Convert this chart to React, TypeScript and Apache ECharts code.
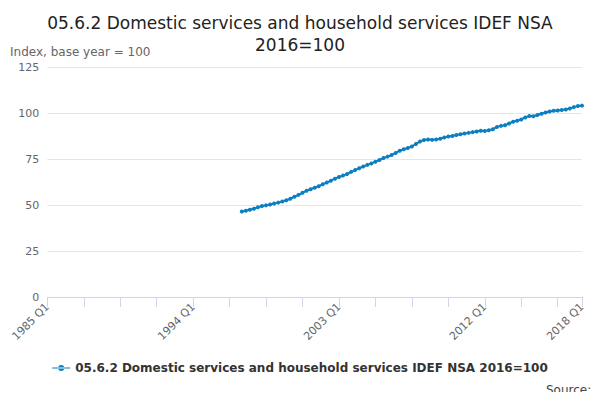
import React, { useEffect, useRef } from "react";
import * as echarts from "echarts";

const years: number[] = [];
for (let y = 1985; y <= 2018; y++) years.push(y);
const categories: string[] = [];
years.forEach((y) => ["Q1", "Q2", "Q3", "Q4"].forEach((q) => { if (y < 2018 || q === "Q1") categories.push(`${y} ${q}`); }));

const seriesName = "05.6.2 Domestic services and household services IDEF NSA 2016=100";
const startCategory = "1997 Q1";
const values = [
  46.5, 46.9, 47.4, 48.0,
  48.8, 49.4, 49.8, 50.3,
  50.8, 51.3, 51.9, 52.6,
  53.4, 54.5, 55.5, 56.6,
  57.8, 58.6, 59.4, 60.2,
  61.3, 62.2, 63.2, 64.3,
  65.2, 66.0, 66.8, 68.0,
  69.0, 70.0, 70.9, 71.8,
  72.6, 73.5, 74.5, 75.5,
  76.3, 77.2, 78.3, 79.5,
  80.3, 81.0, 81.8, 83.2,
  84.5, 85.3, 85.6, 85.4,
  85.6, 86.0, 86.7, 87.2,
  87.5, 88.0, 88.5, 88.9,
  89.2, 89.6, 90.0, 90.3,
  90.2, 90.6, 91.2, 92.4,
  93.0, 93.4, 94.3, 95.3,
  95.8, 96.5, 97.6, 98.4,
  98.2, 98.9, 99.6, 100.3,
  100.8, 101.2, 101.4, 101.6,
  101.9, 102.5, 103.2, 103.8,
  104.0,
];
const labelled = ["1985 Q1", "1994 Q1", "2003 Q1", "2012 Q1", "2018 Q1"];

export default function App() {
  const ref = useRef<HTMLDivElement>(null);
  useEffect(() => {
    const chart = echarts.init(ref.current!, null, { renderer: "svg" });
    const startIdx = categories.indexOf(startCategory);
    const data = categories.map((_, i) => (i >= startIdx && i - startIdx < values.length ? values[i - startIdx] : null));
    chart.setOption({
      animation: false,
      title: {
        text: "05.6.2 Domestic services and household services IDEF NSA\n2016=100",
        left: "center", top: -1,
        textStyle: { fontFamily: "DejaVu Sans", fontSize: 17, fontWeight: "normal", color: "#222", lineHeight: 22 },
      },
      graphic: [
        { type: "text", left: 2, top: 38, style: { text: "Index, base year = 100", fill: "#666", font: "12px DejaVu Sans" } },
        { type: "text", left: 538, top: 376, style: { text: "Source:", fill: "#444", font: "12px DejaVu Sans" } },
      ],
      grid: { left: 39, right: 10, top: 59, bottom: 95 },
      legend: {
        bottom: 13, left: "center", itemWidth: 18, itemHeight: 8,
        icon: "path://M0,3.5 L18,3.5 L18,4.5 L0,4.5 Z M6,4 A3,3 0 1 0 12,4 A3,3 0 1 0 6,4 Z",
        textStyle: { fontFamily: "DejaVu Sans", fontSize: 12, fontWeight: "bold", color: "#333" },
        data: [seriesName],
      },
      xAxis: {
        type: "category", data: categories, boundaryGap: false,
        axisLine: { lineStyle: { color: "#ccd6eb" } },
        axisTick: { interval: (i: number) => i % 9 === 0 || i === categories.length - 1, lineStyle: { color: "#ccd6eb" }, length: 10 },
        axisLabel: {
          interval: (_: number, v: string) => labelled.includes(v),
          rotate: 45, color: "#666", fontFamily: "DejaVu Sans", fontSize: 11,
        },
      },
      yAxis: {
        type: "value", min: 0, max: 125, interval: 25,
        axisLabel: { color: "#666", fontFamily: "DejaVu Sans", fontSize: 11 },
        splitLine: { lineStyle: { color: "#e6e6e6" } },
      },
      series: [{
        name: seriesName, type: "line", data, connectNulls: false,
        symbol: "circle", symbolSize: 4, showSymbol: true, showAllSymbol: true,
        lineStyle: { color: "#0b7fc0", width: 2 }, itemStyle: { color: "#0b7fc0" },
      }],
    });
    return () => chart.dispose();
  }, []);
  return <div ref={ref} style={{ width: 584, height: 384 }} />;
}
